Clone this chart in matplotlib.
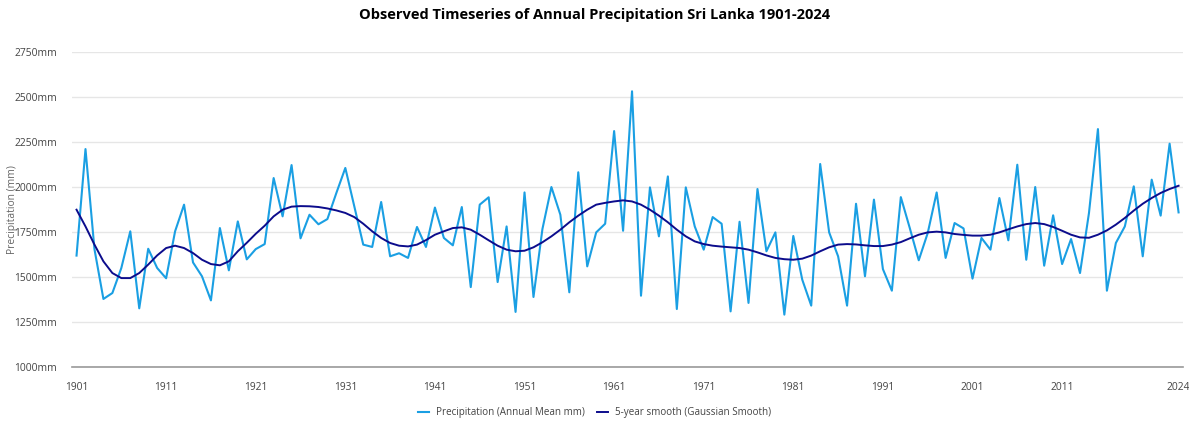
import matplotlib
matplotlib.use("Agg")
import matplotlib.pyplot as plt
import numpy as np

plt.rcParams['font.family'] = ['Open Sans', 'DejaVu Sans']

# annual mean precipitation (mm)
years = np.arange(1901, 2025)
precip = [
    1619, 2211, 1655, 1378, 1411, 1550, 1754, 1326, 1657, 1550,  # 1901-1910
    1493, 1754, 1902, 1581, 1504, 1370, 1772, 1537, 1809, 1598,  # 1911-1920
    1655, 1683, 2050, 1837, 2122, 1715, 1846, 1793, 1822, 1967,  # 1921-1930
    2106, 1893, 1680, 1667, 1917, 1615, 1632, 1606, 1778, 1667,  # 1931-1940
    1886, 1717, 1676, 1889, 1444, 1902, 1943, 1472, 1781, 1306,  # 1941-1950
    1970, 1389, 1767, 2000, 1846, 1415, 2082, 1559, 1748, 1796,  # 1951-1960
    2311, 1757, 2532, 1396, 1998, 1726, 2059, 1322, 1998, 1781,  # 1961-1970
    1652, 1833, 1796, 1309, 1807, 1356, 1989, 1643, 1748, 1291,  # 1971-1980
    1728, 1485, 1341, 2128, 1748, 1615, 1341, 1907, 1504, 1930,  # 1981-1990
    1544, 1424, 1944, 1772, 1593, 1744, 1970, 1606, 1800, 1770,  # 1991-2000
    1491, 1717, 1652, 1939, 1704, 2124, 1596, 2000, 1563, 1843,  # 2001-2010
    1572, 1711, 1522, 1856, 2322, 1424, 1689, 1781, 2004, 1615,  # 2011-2020
    2041, 1841, 2241, 1859,                                      # 2021-2024
]

# 5-year gaussian smooth, also
smooth = [
    1874, 1781, 1680, 1587, 1522, 1494, 1494, 1522, 1569, 1620,
    1661, 1674, 1661, 1633, 1596, 1572, 1565, 1587, 1643, 1690,
    1740, 1785, 1837, 1874, 1891, 1894, 1893, 1889, 1881, 1870,
    1856, 1833, 1796, 1754, 1717, 1689, 1674, 1670, 1680, 1705,
    1735, 1754, 1772, 1776, 1763, 1735, 1704, 1674, 1652, 1643,
    1646, 1665, 1693, 1726, 1763, 1804, 1841, 1874, 1902, 1912,
    1920, 1926, 1920, 1902, 1874, 1841, 1804, 1763, 1726, 1698,
    1683, 1674, 1669, 1665, 1661, 1652, 1637, 1620, 1606, 1599,
    1596, 1602, 1619, 1643, 1665, 1680, 1683, 1681, 1676, 1672,
    1672, 1680, 1694, 1715, 1735, 1748, 1752, 1748, 1739, 1734,
    1730, 1730, 1735, 1748, 1765, 1781, 1794, 1800, 1794, 1778,
    1757, 1735, 1720, 1718, 1735, 1759, 1791, 1828, 1869, 1907,
    1939, 1967, 1989, 2007,
]

tick_years = [1901, 1911, 1921, 1931, 1941, 1951, 1961, 1971, 1981, 1991, 2001, 2011, 2024]
y_ticks = [1000, 1250, 1500, 1750, 2000, 2250, 2500, 2750]

fig = plt.figure(figsize=(11.89, 4.25), dpi=100)
ax = fig.add_axes([0.0606, 0.1365, 0.9344, 0.741])

ax.plot(years, precip, color='#1a9fe3', lw=1.5, label='Precipitation (Annual Mean mm)')
ax.plot(years, smooth, color='#0c0c8c', lw=1.4, label='5-year smooth (Gaussian Smooth)')

ax.set_xlim(1900.5, 2024.5)
ax.set_ylim(1000, 2750)
ax.set_xticks(tick_years)
ax.set_xticklabels([str(y) for y in tick_years])
ax.set_yticks(y_ticks)
ax.set_yticklabels([f'{v}mm' for v in y_ticks])
ax.tick_params(length=0, labelsize=7.4, colors='#444444', pad=11)

ax.grid(axis='y', color='#e6e6e6', lw=1)
ax.set_axisbelow(True)
for s in ['top', 'right', 'left']:
    ax.spines[s].set_visible(False)
ax.spines['bottom'].set_color('#999999')
ax.spines['bottom'].set_linewidth(1.2)

ax.set_ylabel('Precipitation (mm)', fontsize=7.4, color='#666666')
ax.yaxis.set_label_coords(-0.049, 0.5)
fig.suptitle('Observed Timeseries of Annual Precipitation Sri Lanka 1901-2024',
             fontsize=10.5, fontweight='bold', y=0.98, x=0.5)

fig.legend(loc='lower center', ncol=2, frameon=False, fontsize=7.1,
           bbox_to_anchor=(0.5, -0.005), handlelength=1.1, handletextpad=0.7,
           columnspacing=1.2, labelcolor='#444444')

fig.savefig('out.png', dpi=100)
